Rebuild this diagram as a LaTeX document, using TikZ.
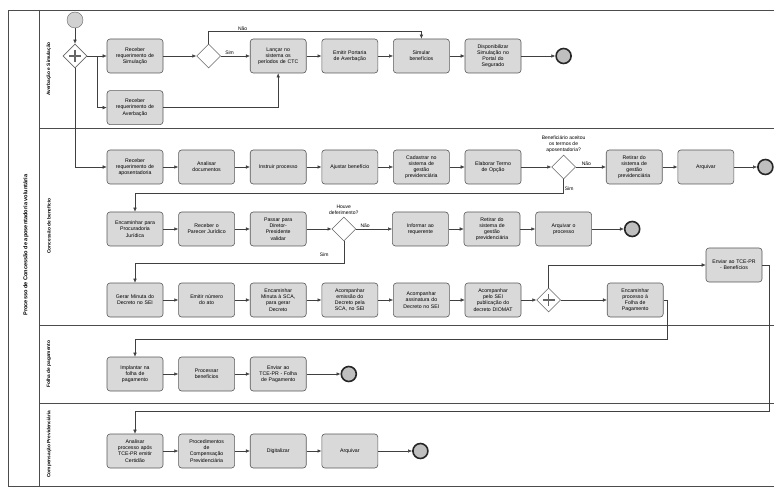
\documentclass[tikz,border=0pt]{standalone}
\usepackage{fontspec}
\setmainfont{Liberation Sans}
\usetikzlibrary{positioning, shapes.geometric, arrows.meta}

\tikzset{
  task/.style={draw=black!65, fill=black!15, rounded corners=3pt, line width=0.6pt,
    minimum width=56pt, minimum height=34pt, text width=52pt, align=center,
    inner sep=1pt, font=\fontsize{5.2}{6.2}\selectfont},
  gateway/.style={diamond, draw=black!60, fill=white, line width=0.6pt,
    minimum width=24pt, minimum height=24pt, inner sep=0pt},
  pgateway/.style={gateway, path picture={\draw[black!60, line width=1.3pt]
    (path picture bounding box.center) +(-6pt,0) -- +(6pt,0) +(0,-6pt) -- +(0,6pt);}},
  startev/.style={circle, draw=black!60, fill=black!18, minimum size=16pt, inner sep=0pt},
  endev/.style={circle, draw=black!85, fill=black!25, line width=1.6pt, minimum size=15pt, inner sep=0pt},
  flow/.style={draw=black!75, line width=0.5pt, -{Latex[length=4pt, width=3.5pt]}},
  lbl/.style={font=\fontsize{5}{6}\selectfont, inner sep=1pt, align=center},
  lanelbl/.style={rotate=90, font=\bfseries\fontsize{4.8}{6}\selectfont},
  frame/.style={draw=black!70, line width=0.6pt},
}

\begin{document}
\begin{tikzpicture}[x=1pt, y=1pt, node distance=15pt]
\useasboundingbox (0,0) rectangle (774,-489);

% pool and lanes
\draw[frame] (774,-10) -- (8,-10) -- (8,-486) -- (774,-486);
\draw[frame] (39,-10) -- (39,-486);
\draw[frame] (39,-128) -- (774,-128);
\draw[frame] (39,-325) -- (774,-325);
\draw[frame] (39,-403) -- (774,-403);
\node[lanelbl, font=\bfseries\fontsize{5.6}{7}\selectfont] (pool) at (26,-245) {Processo de Concessão de aposentadoria voluntária};
\node[lanelbl] (lane1) at (49,-69) {Averbação e Simulação};
\node[lanelbl] (lane2) at (49,-226) {Concessão de benefício};
\node[lanelbl] (lane3) at (49,-364) {Folha de pagamento};
\node[lanelbl] (lane4) at (49,-444) {Compensação Previdenciária};

% Averbacao e Simulacao
\node[startev] (start) at (75,-20) {};
\node[pgateway] (pg1) at (75,-56) {};
\node[task] (simreq) at (135,-56) {Receber\\requerimento de\\Simulação};
\node[gateway, right=33pt of simreq] (gw1) {};
\node[task, right=29pt of gw1] (lancar) {Lançar no\\sistema os\\períodos de CTC};
\node[task, right=of lancar] (portaria) {Emitir Portaria\\de Averbação};
\node[task, right=of portaria] (simular) {Simular\\benefícios};
\node[task, right=of simular] (dispon) {Disponibilizar\\Simulação no\\Portal do\\Segurado};
\node[endev, right=34pt of dispon] (end1) {};
\node[task, below=17pt of simreq] (avreq) {Receber\\requerimento de\\Averbação};

% Concessao de beneficio
\node[task] (aposreq) at (135,-167) {Receber\\requerimento de\\aposentadoria};
\node[task, right=of aposreq] (analisar) {Analisar\\documentos};
\node[task, right=of analisar] (instruir) {Instruir processo};
\node[task, right=of instruir] (ajustar) {Ajustar benefício};
\node[task, right=of ajustar] (cadastrar) {Cadastrar no\\sistema de\\gestão\\previdenciária};
\node[task, right=of cadastrar] (termo) {Elaborar Termo\\de Opção};
\node[gateway, right=30pt of termo] (gw2) {};
\node[lbl, above=1pt of gw2] (q2) {Beneficiário aceitou\\os termos de\\aposentadoria?};
\node[task, right=30pt of gw2] (retirar1) {Retirar do\\sistema de\\gestão\\previdenciária};
\node[task, right=of retirar1] (arquivar1) {Arquivar};
\node[endev, right=23pt of arquivar1] (end2) {};

\node[task] (procur) at (135,-229) {Encaminhar para\\Procuradoria\\Jurídica};
\node[task, right=of procur] (parecer) {Receber o\\Parecer Jurídico};
\node[task, right=of parecer] (validar) {Passar para\\Diretor-\\Presidente\\validar};
\node[gateway, right=25pt of validar] (gw3) {};
\node[lbl, above=1pt of gw3] (q3) {Houve\\deferimento?};
\node[task, right=36pt of gw3] (informar) {Informar ao\\requerente};
\node[task, right=of informar] (retirar2) {Retirar do\\sistema de\\gestão\\previdenciária};
\node[task, right=of retirar2] (arqproc) {Arquivar o\\processo};
\node[endev, right=32pt of arqproc] (end3) {};

\node[task] (minuta) at (135,-300) {Gerar Minuta do\\Decreto no SEI};
\node[task, right=of minuta] (numero) {Emitir número\\do ato};
\node[task, right=of numero] (encsca) {Encaminhar\\Minuta à SCA,\\para gerar\\Decreto};
\node[task, right=of encsca] (emissao) {Acompanhar\\emissão do\\Decreto pela\\SCA, no SEI};
\node[task, right=of emissao] (assinatura) {Acompanhar\\assinatura do\\Decreto no SEI};
\node[task, right=of assinatura] (publicacao) {Acompanhar\\pelo SEI\\publicação do\\decreto DIOMAT};
\node[pgateway, right=of publicacao] (pg2) {};
\node[task, right=46pt of pg2] (encfolha) {Encaminhar\\processo à\\Folha de\\Pagamento};
\node[task] (envtce) at (734,-265) {Enviar ao TCE-PR\\- Benefícios};

% Folha de pagamento
\node[task] (implantar) at (135,-374) {Implantar na\\folha de\\pagamento};
\node[task, right=of implantar] (processar) {Processar\\benefícios};
\node[task, right=of processar] (envfolha) {Enviar ao\\TCE-PR - Folha\\de Pagamento};
\node[endev, right=34pt of envfolha] (end4) {};

% Compensacao Previdenciaria
\node[task] (analcert) at (135,-451) {Analisar\\processo após\\TCE-PR emitir\\Certidão};
\node[task, right=of analcert] (procedim) {Procedimentos\\de\\Compensação\\Previdenciária};
\node[task, right=of procedim] (digitalizar) {Digitalizar};
\node[task, right=of digitalizar] (arqcomp) {Arquivar};
\node[endev, right=34pt of arqcomp] (end5) {};

\coordinate (foldrop) at (667,-339);
\coordinate (tcedrop) at (769,-411);

% fluxos
\draw[flow] (start) -- (pg1);
\draw[flow] (pg1) -- (simreq);
\draw[flow] (pg1.east) -- ++(10,0) |- (avreq);
\draw[flow] (pg1.south) |- (aposreq);
\draw[flow] (simreq) -- (gw1);
\draw[flow] (gw1) -- node[lbl, above, pos=0.3] {Sim} (lancar);
\draw[flow] (gw1.north) -- ++(0,12) -| node[lbl, above, pos=0.08] {Não} (simular.north);
\draw[flow] (avreq) -| (lancar);
\draw[flow] (lancar) -- (portaria);
\draw[flow] (portaria) -- (simular);
\draw[flow] (simular) -- (dispon);
\draw[flow] (dispon) -- (end1);

\draw[flow] (aposreq) -- (analisar);
\draw[flow] (analisar) -- (instruir);
\draw[flow] (instruir) -- (ajustar);
\draw[flow] (ajustar) -- (cadastrar);
\draw[flow] (cadastrar) -- (termo);
\draw[flow] (termo) -- (gw2);
\draw[flow] (gw2) -- node[lbl, above, pos=0.35] {Não} (retirar1);
\draw[flow] (retirar1) -- (arquivar1);
\draw[flow] (arquivar1) -- (end2);
\draw[flow] (gw2.south) -- ++(0,-14) node[lbl, right, pos=0.7] {Sim} -| (procur.north);

\draw[flow] (procur) -- (parecer);
\draw[flow] (parecer) -- (validar);
\draw[flow] (validar) -- (gw3);
\draw[flow] (gw3) -- node[lbl, above, pos=0.25] {Não} (informar);
\draw[flow] (informar) -- (retirar2);
\draw[flow] (retirar2) -- (arqproc);
\draw[flow] (arqproc) -- (end3);
\draw[flow] (gw3.south) -- ++(0,-22) node[lbl, left=14pt, pos=0.6] {Sim} -| (minuta.north);

\draw[flow] (minuta) -- (numero);
\draw[flow] (numero) -- (encsca);
\draw[flow] (encsca) -- (emissao);
\draw[flow] (emissao) -- (assinatura);
\draw[flow] (assinatura) -- (publicacao);
\draw[flow] (publicacao) -- (pg2);
\draw[flow] (pg2) -- (encfolha);
\draw[flow] (pg2.north) |- (envtce);
\draw[flow] (encfolha.east) -| (foldrop) -| (implantar.north);
\draw[flow] (envtce.east) -| (tcedrop) -| (analcert.north);

\draw[flow] (implantar) -- (processar);
\draw[flow] (processar) -- (envfolha);
\draw[flow] (envfolha) -- (end4);

\draw[flow] (analcert) -- (procedim);
\draw[flow] (procedim) -- (digitalizar);
\draw[flow] (digitalizar) -- (arqcomp);
\draw[flow] (arqcomp) -- (end5);
\end{tikzpicture}
\end{document}
